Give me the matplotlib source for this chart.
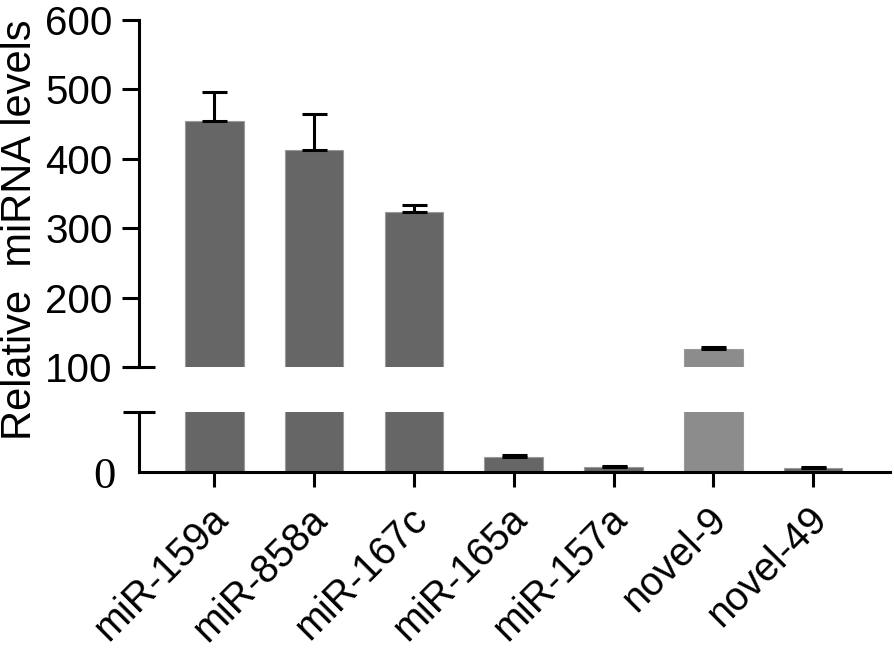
import numpy as np
import matplotlib
matplotlib.use("Agg")
import matplotlib.pyplot as plt
from matplotlib.transforms import ScaledTranslation

plt.rcParams["font.family"] = ["Liberation Sans", "DejaVu Sans"]

names = ["miR-159a", "miR-858a", "miR-167c", "miR-165a", "miR-157a", "novel-9", "novel-49"]
means = [454, 413, 324, 10.2, 3.3, 125.5, 3.0]
errs = [42, 52, 10, 1.1, 0.5, 3, 0.3]
colors = ["#666666"] * 5 + ["#8c8c8c", "#666666"]

top_ticks = [100, 200, 300, 400, 500, 600]

W, H = 894, 656
fig = plt.figure(figsize=(W / 100, H / 100), dpi=100)

left = 139 / W
width = (890 - 139) / W
ax_top = fig.add_axes([left, (H - 367) / H, width, (367 - 20) / H])
ax_bot = fig.add_axes([left, (H - 472) / H, width, (472 - 412) / H])

x = np.arange(len(names))
lw = 2.2

for ax in (ax_top, ax_bot):
    ax.bar(x, means, width=0.587, color=colors, edgecolor="#9a9a9a", linewidth=0.8, zorder=2)
    ax.errorbar(x, means, yerr=[np.zeros(len(errs)), errs], fmt="none", ecolor="black",
                elinewidth=lw, capsize=9, capthick=lw, zorder=3)
    ax.set_xlim(-0.755, 6.77)
    for s in ("top", "right"):
        ax.spines[s].set_visible(False)
    ax.spines["left"].set_linewidth(lw)
    ax.spines["bottom"].set_linewidth(lw)

# upper part
ax_top.set_ylim(100, 600)
ax_top.set_yticks(top_ticks)
ax_top.set_yticklabels([str(t) for t in top_ticks], fontsize=29)
ax_top.tick_params(axis="y", length=12, width=lw, pad=7)
ax_top.spines["bottom"].set_visible(False)
ax_top.set_xticks([])
ax_top.plot([-0.021, 0.021], [100, 100], color="black", lw=lw,
            transform=ax_top.get_yaxis_transform(), clip_on=False, solid_capstyle="butt")

# lower part
ax_bot.set_ylim(0, 40)
ax_bot.set_yticks([0])
ax_bot.set_yticklabels(["0"], fontsize=32, family=["Liberation Serif"])
ax_bot.tick_params(axis="y", length=0, pad=17)
ax_bot.plot([-0.021, 0.021], [40, 40], color="black", lw=lw,
            transform=ax_bot.get_yaxis_transform(), clip_on=False, solid_capstyle="butt")
ax_bot.set_xticks(x)
ax_bot.set_xticklabels(names, fontsize=28.5, rotation=45, ha="right", rotation_mode="anchor")
ax_bot.tick_params(axis="x", length=11, width=lw, pad=9)
offset = ScaledTranslation(-6 / 100, 0, fig.dpi_scale_trans)
for lab in ax_bot.get_xticklabels():
    lab.set_transform(lab.get_transform() + offset)

fig.text(0, 1 - 230 / H, "Relative  miRNA levels", rotation=90, fontsize=30,
         ha="left", va="center")

fig.savefig("out.png", dpi=100)
